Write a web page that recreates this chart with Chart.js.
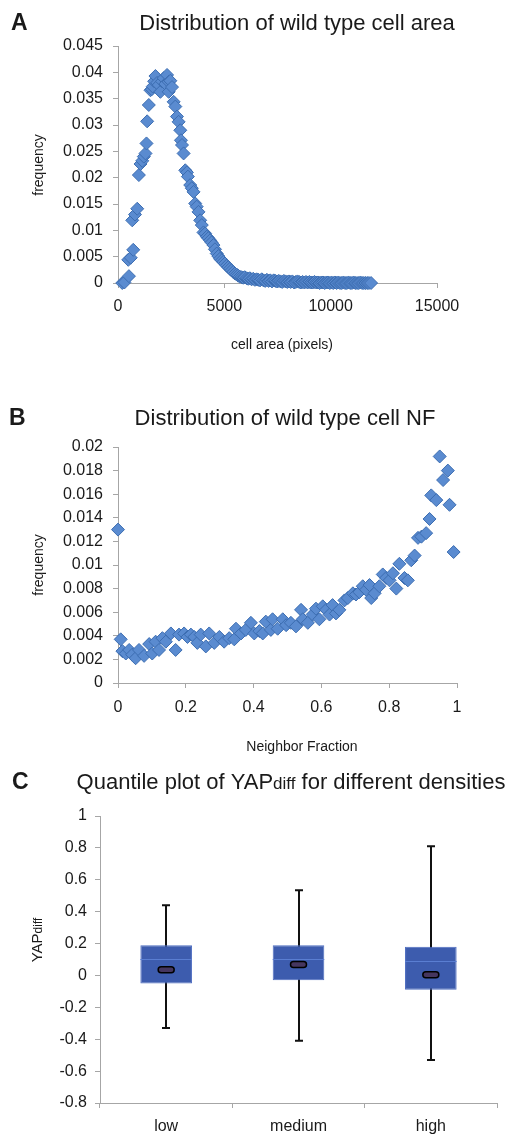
<!DOCTYPE html>
<html>
<head>
<meta charset="utf-8">
<script src="https://cdn.jsdelivr.net/npm/chart.js@4.4.0/dist/chart.umd.min.js"></script>
<style>
body { margin: 0; background: #fff; }
.panel { position: absolute; left: 0; width: 519px; height: 380px; }
</style>
</head>
<body>
<div class="panel" style="top:0"><canvas id="chartA"></canvas></div>
<div class="panel" style="top:380px"><canvas id="chartB"></canvas></div>
<div class="panel" style="top:760px"><canvas id="chartC"></canvas></div>
<script>
// panel A - cell area histogram
var areaX = [200, 300, 483, 514, 600, 670, 717, 800, 904, 982, 1059, 1140, 1215, 1293, 1340, 1371, 1449, 1527, 1590, 1636,
	1700, 1760, 1840, 1916, 1994, 2070, 2150, 2230, 2306, 2384, 2384, 2462, 2540, 2617, 2695, 2773, 2851, 2929, 2960, 3010,
	3085, 3163, 3240, 3287, 3396, 3470, 3552, 3630, 3700, 3786, 3864, 3940, 4020, 4098, 4180, 4250, 4331, 4400, 4487, 4560,
	4643, 4720, 4799, 4880, 4950, 5032, 5110, 5190, 5266, 5340, 5420, 5500, 5580, 5650, 5730, 5811, 5890, 5960, 6050, 6123,
	6200, 6280, 6360, 6440, 6520, 6600, 6680, 6760, 6840, 6920, 7000, 7080, 7160, 7240, 7320, 7400, 7480, 7560, 7640, 7720,
	7800, 7880, 7960, 8040, 8120, 8200, 8280, 8360, 8440, 8520, 8600, 8680, 8760, 8840, 8920, 9000, 9080, 9160, 9240, 9320,
	9400, 9480, 9560, 9640, 9720, 9800, 9880, 9960, 10040, 10120, 10200, 10280, 10360, 10440, 10520, 10600, 10680, 10760, 10840, 10920,
	11000, 11080, 11160, 11240, 11320, 11400, 11480, 11560, 11640, 11720, 11800, 11900];
var areaFreq = [0, 0.0001, 0.0044, 0.0013, 0.0048, 0.0119, 0.0063, 0.0130, 0.0141, 0.0205, 0.0226, 0.0232, 0.0240, 0.0246, 0.0265, 0.0307, 0.0338, 0.0366, 0.0368, 0.0373,
	0.0383, 0.0393, 0.0380, 0.0376, 0.0363, 0.0383, 0.0389, 0.0378, 0.0395, 0.0382, 0.0363, 0.0384, 0.0372, 0.0344, 0.0335, 0.0316, 0.0306, 0.0290, 0.0271, 0.0262,
	0.0246, 0.0214, 0.0210, 0.0202, 0.0186, 0.0180, 0.0173, 0.0151, 0.0145, 0.0135, 0.0119, 0.0110, 0.0096, 0.0094, 0.0088, 0.0085, 0.0081, 0.0077, 0.0072, 0.0064,
	0.0056, 0.0051, 0.0046, 0.0043, 0.0040, 0.0037, 0.0033, 0.0030, 0.0027, 0.0024, 0.0021, 0.0018, 0.0016, 0.0014, 0.0012, 0.0011, 0.0010, 0.0011, 0.0009, 0.0008,
	0.0009, 0.0007, 0.0008, 0.0006, 0.0007, 0.0006, 0.0005, 0.0007, 0.0005, 0.0004, 0.0006, 0.0004, 0.0005, 0.0003, 0.0005, 0.0004, 0.0003, 0.0004, 0.0003, 0.0002,
	0.0004, 0.0003, 0.0002, 0.0003, 0.0002, 0.0003, 0.0001, 0.0002, 0.0003, 0.0002, 0.0001, 0.0002, 0.0001, 0.0002, 0.0001, 0.0002, 0.0001, 0.0001, 0.0002, 0.0001,
	0.0001, 0, 0.0001, 0.0001, 0, 0.0001, 0.0001, 0, 0.0001, 0, 0.0001, 0, 0.0001, 0, 0, 0.0001, 0, 0, 0.0001, 0,
	0, 0.0001, 0, 0, 0, 0.0001, 0, 0, 0, 0, 0, 0];

// panel B - neighbor fraction
var nfX = [0, 0.008, 0.013, 0.023, 0.033, 0.042, 0.052, 0.062, 0.077, 0.092, 0.101, 0.111, 0.121, 0.131, 0.141, 0.156, 0.170, 0.180, 0.195, 0.205,
	0.215, 0.225, 0.234, 0.244, 0.259, 0.269, 0.284, 0.299, 0.313, 0.328, 0.343, 0.348, 0.363, 0.377, 0.392, 0.402, 0.417, 0.427, 0.436, 0.451,
	0.456, 0.471, 0.486, 0.496, 0.510, 0.525, 0.540, 0.545, 0.560, 0.574, 0.584, 0.594, 0.604, 0.614, 0.624, 0.633, 0.643, 0.653, 0.668, 0.678,
	0.693, 0.702, 0.712, 0.722, 0.732, 0.742, 0.747, 0.757, 0.771, 0.781, 0.791, 0.801, 0.811, 0.821, 0.830, 0.845, 0.855, 0.865, 0.875, 0.885,
	0.895, 0.909, 0.919, 0.924, 0.939, 0.949, 0.959, 0.973, 0.978, 0.990];
var nfFreq = [0.0130, 0.0037, 0.0027, 0.0025, 0.0028, 0.0024, 0.0021, 0.0028, 0.0023, 0.0033, 0.0025, 0.0035, 0.0028, 0.0038, 0.0035, 0.0042, 0.0028, 0.0041, 0.0042, 0.0039,
	0.0041, 0.0039, 0.0034, 0.0041, 0.0031, 0.0042, 0.0034, 0.0039, 0.0035, 0.0038, 0.0037, 0.0046, 0.0042, 0.0045, 0.0051, 0.0042, 0.0044, 0.0042, 0.0052, 0.0045,
	0.0054, 0.0046, 0.0054, 0.0049, 0.0051, 0.0048, 0.0062, 0.0054, 0.0051, 0.0058, 0.0063, 0.0054, 0.0065, 0.0062, 0.0058, 0.0066, 0.0059, 0.0062, 0.0070, 0.0072,
	0.0076, 0.0075, 0.0077, 0.0082, 0.0079, 0.0083, 0.0072, 0.0076, 0.0082, 0.0092, 0.0089, 0.0087, 0.0093, 0.0080, 0.0101, 0.0089, 0.0087, 0.0104, 0.0108, 0.0123,
	0.0124, 0.0127, 0.0139, 0.0159, 0.0155, 0.0192, 0.0172, 0.0180, 0.0151, 0.0111];

// panel C - quantiles of YAPdiff
var densityLabels = ['low', 'medium', 'high'];
var whiskerLow = [-0.33, -0.41, -0.53];
var boxQ1 = [-0.05, -0.03, -0.09];
var boxMedian = [0.105, 0.105, 0.088];
var boxQ3 = [0.19, 0.19, 0.18];
var whiskerHigh = [0.44, 0.535, 0.81];
var boxMean = [0.035, 0.068, 0.005];

var FONT = '"Liberation Sans", Arial, sans-serif';
Chart.defaults.font.family = FONT;
Chart.defaults.color = '#1a1a1a';
Chart.defaults.animation = false;

function fmt(v) {
	return String(parseFloat(Number(v).toFixed(4)));
}

function drawRuns(ctx, runs, cx, cy) {
	var w = 0;
	runs.forEach(function (r) {
		ctx.font = (r.bold ? 'bold ' : '') + r.size + 'px ' + FONT;
		r.w = ctx.measureText(r.text).width;
		w += r.w;
	});
	var x = cx - w / 2;
	ctx.textAlign = 'left';
	ctx.textBaseline = 'alphabetic';
	runs.forEach(function (r) {
		ctx.font = (r.bold ? 'bold ' : '') + r.size + 'px ' + FONT;
		ctx.fillText(r.text, x, cy);
		x += r.w;
	});
}

var panelText = {
	id: 'panelText',
	afterDraw: function (chart, args, o) {
		var ctx = chart.ctx;
		ctx.save();
		ctx.fillStyle = '#1a1a1a';
		ctx.font = 'bold 23px ' + FONT;
		ctx.textAlign = 'left';
		ctx.textBaseline = 'alphabetic';
		ctx.fillText(o.letter, o.letterX, o.letterY);
		drawRuns(ctx, o.title, o.titleX, o.titleY);
		drawRuns(ctx, o.xTitle, o.xTitleX, o.xTitleY);
		ctx.translate(o.yTitleX, o.yTitleY);
		ctx.rotate(-Math.PI / 2);
		drawRuns(ctx, o.yTitle, 0, 0);
		ctx.restore();
	}
};

function linAxis(min, max, step, pad, fix) {
	return {
		type: 'linear',
		min: min,
		max: max,
		ticks: { stepSize: step, callback: fmt, font: { size: 16 }, color: '#1a1a1a', padding: pad },
		grid: { drawOnChartArea: false, tickLength: 5, color: '#a6a6a6' },
		border: { color: '#a6a6a6' },
		afterFit: fix
	};
}

function scatterSet(xs, ys) {
	return {
		data: xs.map(function (x, i) { return { x: x, y: ys[i] }; }),
		pointStyle: 'rectRot',
		pointRadius: 6.5,
		backgroundColor: '#5a8bd0',
		borderColor: '#3c6db1',
		borderWidth: 1,
		clip: false
	};
}

// A
new Chart(document.getElementById('chartA'), {
	type: 'scatter',
	data: { datasets: [scatterSet(areaX, areaFreq)] },
	options: {
		responsive: true,
		maintainAspectRatio: false,
		layout: { padding: { left: 0, top: 46, right: 82, bottom: 0 } },
		scales: {
			x: linAxis(0, 15000, 5000, 9, function (s) { s.height = 97; }),
			y: linAxis(0, 0.045, 0.005, 10, function (s) { s.width = 118; })
		},
		plugins: {
			legend: { display: false },
			tooltip: { enabled: false },
			panelText: {
				letter: 'A', letterX: 11, letterY: 30,
				title: [{ text: 'Distribution of wild type cell area', size: 22 }], titleX: 297, titleY: 30,
				xTitle: [{ text: 'cell area (pixels)', size: 14 }], xTitleX: 282, xTitleY: 349,
				yTitle: [{ text: 'frequency', size: 14 }], yTitleX: 43, yTitleY: 165
			}
		}
	},
	plugins: [panelText]
});

// B
new Chart(document.getElementById('chartB'), {
	type: 'scatter',
	data: { datasets: [scatterSet(nfX, nfFreq)] },
	options: {
		responsive: true,
		maintainAspectRatio: false,
		layout: { padding: { left: 0, top: 67, right: 62, bottom: 0 } },
		scales: {
			x: linAxis(0, 1, 0.2, 10, function (s) { s.height = 77; }),
			y: linAxis(0, 0.02, 0.002, 10, function (s) { s.width = 118; })
		},
		plugins: {
			legend: { display: false },
			tooltip: { enabled: false },
			panelText: {
				letter: 'B', letterX: 9, letterY: 45,
				title: [{ text: 'Distribution of wild type cell NF', size: 22 }], titleX: 285, titleY: 45,
				xTitle: [{ text: 'Neighbor Fraction', size: 14 }], xTitleX: 302, xTitleY: 371,
				yTitle: [{ text: 'frequency', size: 14 }], yTitleX: 43, yTitleY: 185
			}
		}
	},
	plugins: [panelText]
});

// C - box parts drawn from the quantile arrays through the chart scales
var boxParts = {
	id: 'boxParts',
	beforeDatasetsDraw: function (chart) {
		var ctx = chart.ctx, xs = chart.scales.x, ys = chart.scales.y;
		ctx.save();
		ctx.strokeStyle = '#111';
		ctx.lineWidth = 2;
		densityLabels.forEach(function (l, i) {
			var x = Math.round(xs.getPixelForValue(i));
			var top = ys.getPixelForValue(whiskerHigh[i]);
			var bot = ys.getPixelForValue(whiskerLow[i]);
			ctx.beginPath();
			ctx.moveTo(x, top); ctx.lineTo(x, bot);
			ctx.moveTo(x - 4, top); ctx.lineTo(x + 4, top);
			ctx.moveTo(x - 4, bot); ctx.lineTo(x + 4, bot);
			ctx.stroke();
		});
		ctx.restore();
	},
	afterDatasetsDraw: function (chart) {
		var ctx = chart.ctx, xs = chart.scales.x, ys = chart.scales.y;
		var bars = chart.getDatasetMeta(0).data;
		ctx.save();
		densityLabels.forEach(function (l, i) {
			var x = xs.getPixelForValue(i);
			var hw = bars[i].width / 2;
			var my = Math.round(ys.getPixelForValue(boxMedian[i])) + 0.5;
			ctx.strokeStyle = '#5a7ed2';
			ctx.lineWidth = 1;
			ctx.beginPath();
			ctx.moveTo(x - hw, my); ctx.lineTo(x + hw, my);
			ctx.stroke();
			var ay = ys.getPixelForValue(boxMean[i]);
			ctx.beginPath();
			ctx.roundRect(x - 8, ay - 3, 16, 6, 3);
			ctx.fillStyle = '#45365f';
			ctx.fill();
			ctx.strokeStyle = '#000';
			ctx.lineWidth = 1.5;
			ctx.stroke();
		});
		ctx.restore();
	}
};

new Chart(document.getElementById('chartC'), {
	type: 'bar',
	data: {
		labels: densityLabels,
		datasets: [{
			data: boxQ1.map(function (q, i) { return [q, boxQ3[i]]; }),
			backgroundColor: '#3d5cae',
			borderColor: '#4d6cc0',
			borderWidth: 1,
			borderSkipped: false,
			barPercentage: 0.39,
			categoryPercentage: 1
		}]
	},
	options: {
		responsive: true,
		maintainAspectRatio: false,
		layout: { padding: { left: 0, top: 56, right: 22, bottom: 0 } },
		scales: {
			x: {
				ticks: { font: { size: 16 }, color: '#1a1a1a', padding: 9 },
				grid: { drawOnChartArea: false, tickLength: 5, color: '#a6a6a6', offset: true },
				border: { color: '#a6a6a6' },
				afterFit: function (s) { s.height = 37; }
			},
			y: linAxis(-0.8, 1, 0.2, 8, function (s) { s.width = 100; })
		},
		plugins: {
			legend: { display: false },
			tooltip: { enabled: false },
			panelText: {
				letter: 'C', letterX: 12, letterY: 29,
				title: [{ text: 'Quantile plot of YAP', size: 22 }, { text: 'diff', size: 17 }, { text: ' for different densities', size: 22 }],
				titleX: 291, titleY: 29,
				xTitle: [], xTitleX: 0, xTitleY: 0,
				yTitle: [{ text: 'YAP', size: 15 }, { text: 'diff', size: 12 }], yTitleX: 42, yTitleY: 180
			}
		}
	},
	plugins: [boxParts, panelText]
});
</script>
</body>
</html>
